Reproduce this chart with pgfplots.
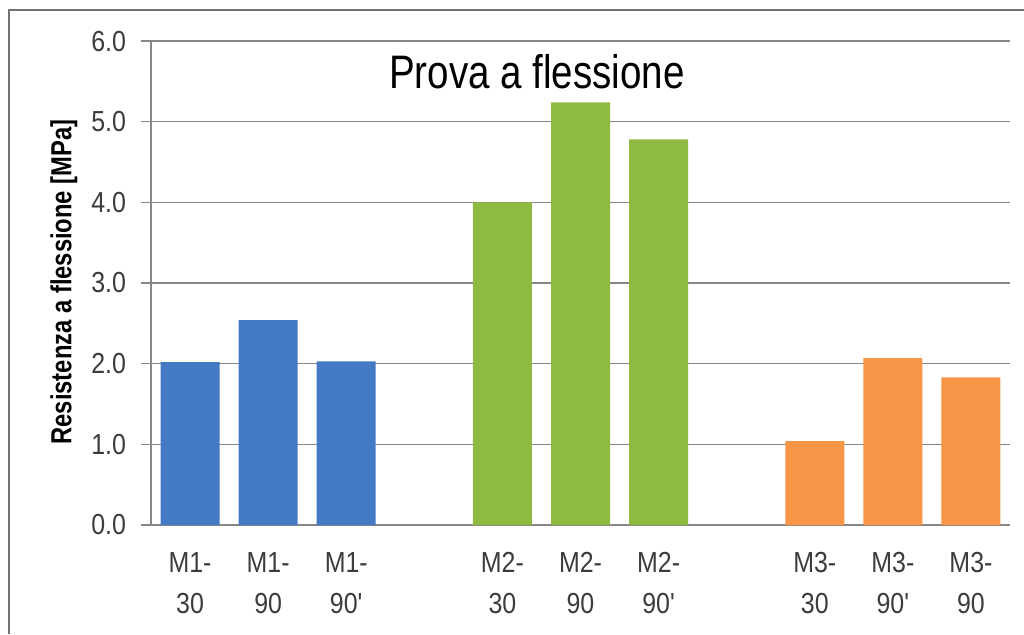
\documentclass[border=0pt]{standalone}
\usepackage{pgfplots}
\pgfplotsset{compat=1.18}
\usepackage{fontspec}
\setmainfont{Liberation Sans}
\newfontfamily\narrowfont{Liberation Sans}[FakeStretch=0.82]
\newfontfamily\tickfont{Liberation Sans}[FakeStretch=0.86]
\definecolor{mblue}{RGB}{68,122,196}
\definecolor{mgreen}{RGB}{143,186,66}
\definecolor{morange}{RGB}{247,150,70}
\definecolor{gridc}{RGB}{135,135,135}
\definecolor{tickc}{RGB}{60,60,60}
\pgfplotstableread{
x y
0 2.02
1 2.54
2 2.03
}\mone
\pgfplotstableread{
x y
4 4.00
5 5.24
6 4.78
}\mtwo
\pgfplotstableread{
x y
8 1.04
9 2.07
10 1.83
}\mthree
\newcommand{\ap}{\char"0027}
\begin{document}
\begin{tikzpicture}
\path[use as bounding box] (0,0) rectangle (512pt,317pt);
\draw[gray!90!black, line width=1.2pt] (4.5pt,0) -- (4.5pt,312pt) -- (512pt,312pt);
\begin{axis}[
  at={(75.5pt,54.5pt)}, anchor=south west,
  scale only axis, width=429.5pt, height=242pt,
  xmin=-0.5, xmax=10.5, ymin=0, ymax=6,
  axis lines*=left,
  axis line style={-, draw=gridc, line width=0.6pt},
  ytick={0,1,2,3,4,5,6},
  ymajorgrids, major grid style={draw=gridc, line width=0.6pt},
  /pgf/number format/fixed, /pgf/number format/fixed zerofill, /pgf/number format/precision=1, /pgf/number format/assume math mode=true,
  y tick label style={font=\tickfont\fontsize{14.5}{16}\selectfont, text=tickc, xshift=-4pt},
  tick align=outside,
  major tick length=5pt,
  tick style={draw=gridc, line width=0.6pt},
  xtick={0,1,2,4,5,6,8,9,10},
  xticklabels={{M1-\\30},{M1-\\90},{M1-\\90\ap},{M2-\\30},{M2-\\90},{M2-\\90\ap},{M3-\\30},{M3-\\90\ap},{M3-\\90}},
  x tick label style={font=\tickfont\fontsize{14.5}{20.5}\selectfont, text=tickc, align=center, yshift=-5pt},
  x tick style={draw=none},
  extra x ticks={-0.5,0.5,1.5,2.5,3.5,4.5,5.5,6.5,7.5,8.5,9.5,10.5},
  extra x tick labels={},
  extra x tick style={grid=none, major tick length=4pt, tick style={draw=gridc, line width=0.6pt}},
  ybar, bar width=29.5pt, bar shift=0pt,
]
\addplot[fill=mblue, draw=none] table[x=x,y=y] {\mone};
\addplot[fill=mgreen, draw=none] table[x=x,y=y] {\mtwo};
\addplot[fill=morange, draw=none] table[x=x,y=y] {\mthree};
\end{axis}
\node[anchor=base, font=\narrowfont\fontsize{23.5}{26}\selectfont] at (268.5pt,273pt) {Prova a flessione};
\node[rotate=90, font=\narrowfont\bfseries\fontsize{14.5}{16}\selectfont] at (32pt,176pt) {Resistenza a flessione [MPa]};
\end{tikzpicture}
\end{document}
